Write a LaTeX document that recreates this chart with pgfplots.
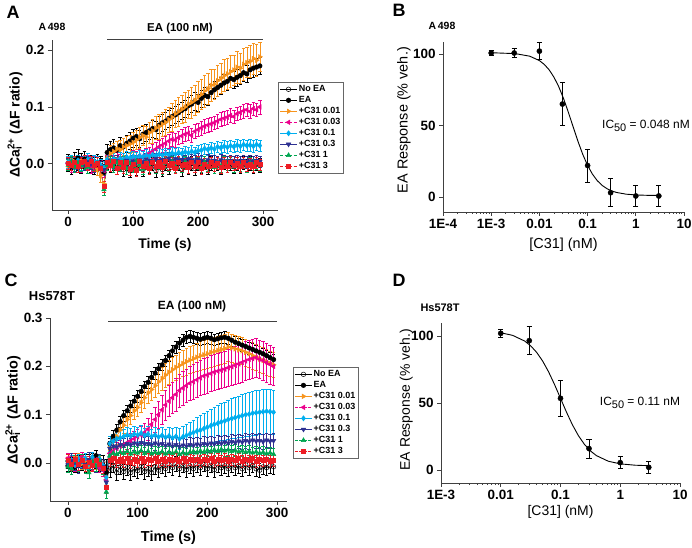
\documentclass[border=0pt]{standalone}
\usepackage{pgfplots}
\pgfplotsset{compat=1.18}
\usepackage{pgfplotstable}
\usepackage{fontspec}
\setmainfont{Liberation Sans}
\definecolor{cOr}{RGB}{247,148,29}
\definecolor{cMg}{RGB}{236,0,140}
\definecolor{cLb}{RGB}{0,174,239}
\definecolor{cNv}{RGB}{46,49,146}
\definecolor{cGr}{RGB}{0,166,81}
\definecolor{cRd}{RGB}{237,28,36}

\pgfplotstableread{
t ne ea c1 c2 c3 c4 c5 c6 e1
0 0.000 0.002 -0.003 0.001 0.003 0.000 -0.002 0.001 0.008
5 0.003 -0.004 0.002 -0.003 0.005 0.002 0.004 -0.002 0.008
10 -0.002 0.006 0.004 0.002 0.001 -0.003 -0.005 0.003 0.008
15 0.001 0.010 -0.002 0.004 0.006 0.001 0.002 -0.004 0.008
20 -0.004 0.003 0.005 -0.002 -0.001 0.003 -0.003 0.002 0.008
25 0.002 0.008 0.003 0.001 0.004 -0.002 0.001 0.005 0.008
30 0.000 0.004 -0.004 0.003 0.008 0.004 -0.006 -0.001 0.008
35 -0.003 0.001 0.002 -0.004 0.002 0.000 0.003 0.004 0.008
40 0.004 -0.003 0.000 0.002 0.005 -0.004 -0.002 -0.003 0.008
45 -0.001 0.002 -0.010 0.000 0.003 0.002 0.001 0.001 0.010
50 0.002 -0.005 -0.020 -0.005 -0.002 -0.006 -0.010 -0.008 0.012
55 -0.005 -0.015 -0.035 -0.012 -0.006 -0.010 -0.045 -0.040 0.012
60 0.003 0.020 0.010 0.004 0.008 0.003 -0.002 0.002 0.012
65 -0.002 0.025 0.018 0.006 0.005 0.006 0.004 -0.003 0.014
70 0.001 0.028 0.022 0.003 0.009 0.002 -0.005 0.004 0.015
75 -0.006 0.024 0.026 0.008 0.006 0.005 0.002 -0.008 0.014
80 0.002 0.032 0.025 0.005 0.010 0.001 -0.003 0.003 0.016
85 -0.010 0.030 0.030 0.007 0.008 0.004 0.003 -0.006 0.015
90 0.000 0.036 0.032 0.010 0.012 0.006 -0.008 0.002 0.017
95 -0.012 0.040 0.035 0.008 0.010 0.002 0.001 -0.010 0.016
100 0.003 0.045 0.038 0.012 0.013 0.005 -0.004 0.000 0.018
105 -0.008 0.048 0.042 0.010 0.011 0.003 0.005 -0.012 0.017
110 0.001 0.044 0.046 0.014 0.014 0.007 -0.002 0.004 0.019
115 -0.010 0.052 0.050 0.012 0.012 0.004 -0.009 -0.005 0.018
120 0.002 0.055 0.047 0.016 0.015 0.008 0.002 0.001 0.020
125 -0.004 0.058 0.055 0.018 0.013 0.006 -0.004 -0.008 0.019
130 0.000 0.062 0.058 0.022 0.016 0.005 0.003 0.003 0.021
135 -0.012 0.060 0.063 0.026 0.014 0.009 -0.006 -0.004 0.020
140 0.003 0.068 0.066 0.030 0.017 0.006 0.001 0.002 0.022
145 -0.010 0.072 0.070 0.033 0.015 0.008 -0.008 -0.006 0.021
150 0.001 0.075 0.073 0.036 0.018 0.007 0.002 0.004 0.023
155 -0.007 0.080 0.078 0.040 0.016 0.010 -0.003 -0.002 0.022
160 0.002 0.083 0.082 0.043 0.019 0.006 0.004 0.001 0.024
165 -0.005 0.086 0.088 0.042 0.017 0.009 -0.005 -0.007 0.023
170 0.000 0.090 0.092 0.046 0.020 0.007 0.001 0.003 0.025
175 -0.009 0.094 0.096 0.049 0.018 0.008 -0.004 -0.003 0.024
180 0.002 0.097 0.100 0.052 0.021 0.006 0.003 0.000 0.026
185 -0.006 0.102 0.105 0.054 0.019 0.009 -0.007 -0.006 0.025
190 0.001 0.105 0.108 0.050 0.022 0.007 0.002 0.002 0.027
195 -0.008 0.110 0.112 0.057 0.020 0.005 -0.004 -0.004 0.026
200 0.000 0.108 0.118 0.060 0.023 0.008 0.001 0.003 0.027
205 -0.005 0.115 0.122 0.063 0.024 0.006 -0.005 -0.008 0.026
210 0.002 0.120 0.128 0.066 0.027 0.004 0.003 0.000 0.028
215 -0.007 0.118 0.132 0.068 0.025 0.007 -0.003 -0.005 0.027
220 0.001 0.125 0.138 0.070 0.028 0.005 0.002 0.002 0.028
225 -0.004 0.130 0.140 0.072 0.026 0.006 -0.006 -0.003 0.027
230 0.000 0.134 0.146 0.075 0.030 0.004 0.001 0.001 0.028
235 -0.006 0.138 0.150 0.078 0.028 0.007 -0.004 -0.006 0.026
240 0.002 0.142 0.155 0.080 0.031 0.005 0.003 0.002 0.028
245 -0.003 0.145 0.158 0.082 0.029 0.004 -0.002 -0.004 0.027
250 0.001 0.150 0.162 0.085 0.032 0.006 0.002 0.003 0.028
255 -0.005 0.148 0.165 0.083 0.030 0.003 -0.005 -0.002 0.026
260 0.000 0.152 0.170 0.088 0.033 0.005 0.001 0.001 0.028
265 -0.004 0.155 0.168 0.090 0.031 0.004 -0.003 -0.005 0.027
270 0.002 0.160 0.175 0.093 0.034 0.006 0.002 0.002 0.028
275 -0.003 0.158 0.178 0.095 0.032 0.003 -0.004 -0.003 0.026
280 0.001 0.165 0.180 0.092 0.033 0.005 0.001 0.000 0.028
285 -0.004 0.168 0.185 0.097 0.031 0.004 -0.002 -0.004 0.027
290 0.000 0.170 0.182 0.095 0.034 0.006 0.001 0.002 0.028
295 -0.002 0.172 0.188 0.100 0.032 0.004 -0.003 -0.001 0.026
}\tabA

\pgfplotstableread{
t ne ea c1 c2 c3 c4 c5 c6 e1 e2 e3
0 0.004 -0.006 0.008 0.010 0.002 -0.004 -0.008 0.006 0.010 0.010 0.010
5 -0.003 0.002 -0.004 0.003 0.006 0.005 -0.012 -0.002 0.010 0.010 0.010
10 0.002 -0.008 0.005 -0.006 -0.004 0.001 0.004 0.008 0.010 0.010 0.010
15 -0.005 0.004 0.010 0.004 0.008 -0.006 -0.005 -0.003 0.010 0.010 0.010
20 0.001 -0.003 -0.002 0.012 0.003 0.004 0.006 0.005 0.010 0.010 0.012
25 -0.004 0.006 0.004 -0.008 0.010 -0.003 -0.010 -0.006 0.010 0.010 0.010
30 0.003 -0.002 -0.006 0.005 -0.002 0.007 -0.020 0.002 0.010 0.010 0.010
35 -0.002 0.008 0.006 -0.004 0.012 0.002 0.003 -0.004 0.010 0.010 0.010
40 0.004 0.015 -0.003 0.007 0.004 -0.005 -0.006 0.006 0.010 0.010 0.010
45 -0.003 0.003 0.005 -0.010 0.009 0.003 0.004 -0.002 0.010 0.010 0.010
50 0.002 -0.005 -0.012 -0.015 -0.004 -0.008 -0.012 -0.010 0.012 0.012 0.012
55 -0.008 -0.020 -0.030 -0.035 -0.030 -0.040 -0.060 -0.050 0.012 0.012 0.012
60 -0.015 0.040 0.030 0.020 0.040 0.030 0.015 0.005 0.015 0.012 0.015
65 -0.005 0.055 0.045 0.025 0.045 0.035 0.020 0.010 0.015 0.012 0.015
70 -0.020 0.068 0.055 0.030 0.050 0.033 0.018 0.004 0.016 0.013 0.015
75 -0.008 0.085 0.068 0.035 0.052 0.038 0.022 0.008 0.016 0.013 0.016
80 -0.018 0.098 0.078 0.038 0.055 0.036 0.020 0.003 0.017 0.014 0.015
85 -0.010 0.108 0.090 0.042 0.058 0.040 0.024 0.009 0.017 0.014 0.016
90 -0.020 0.118 0.098 0.046 0.056 0.037 0.019 0.002 0.018 0.015 0.015
95 -0.012 0.128 0.108 0.050 0.060 0.041 0.023 0.007 0.018 0.015 0.016
100 -0.016 0.138 0.115 0.054 0.058 0.038 0.021 0.004 0.019 0.016 0.015
105 -0.008 0.148 0.125 0.058 0.062 0.042 0.025 0.010 0.020 0.018 0.016
110 -0.018 0.158 0.135 0.063 0.057 0.039 0.020 0.003 0.021 0.020 0.015
115 -0.012 0.167 0.145 0.070 0.060 0.040 0.024 0.008 0.022 0.022 0.016
120 -0.020 0.177 0.152 0.080 0.055 0.037 0.019 0.005 0.022 0.024 0.015
125 -0.008 0.186 0.160 0.090 0.058 0.041 0.022 0.009 0.023 0.026 0.016
130 -0.015 0.195 0.168 0.100 0.054 0.038 0.020 0.004 0.024 0.028 0.015
135 -0.006 0.203 0.175 0.110 0.057 0.040 0.023 0.008 0.024 0.030 0.016
140 -0.012 0.212 0.182 0.120 0.053 0.036 0.019 0.003 0.025 0.031 0.017
145 -0.004 0.222 0.188 0.128 0.056 0.039 0.022 0.007 0.025 0.032 0.018
150 -0.010 0.232 0.193 0.135 0.052 0.035 0.020 0.005 0.026 0.033 0.019
155 -0.002 0.240 0.198 0.142 0.055 0.038 0.023 0.008 0.026 0.034 0.020
160 -0.012 0.248 0.202 0.150 0.050 0.034 0.018 0.004 0.027 0.034 0.021
165 -0.005 0.254 0.206 0.155 0.054 0.037 0.021 0.009 0.027 0.035 0.022
170 -0.014 0.260 0.210 0.160 0.057 0.035 0.019 0.003 0.028 0.035 0.023
175 -0.006 0.262 0.213 0.165 0.060 0.038 0.022 0.007 0.028 0.035 0.024
180 -0.012 0.260 0.216 0.168 0.063 0.036 0.024 0.005 0.028 0.036 0.026
185 -0.004 0.258 0.219 0.172 0.066 0.039 0.021 0.008 0.029 0.036 0.028
190 -0.010 0.256 0.222 0.176 0.068 0.037 0.025 0.004 0.029 0.036 0.030
195 -0.003 0.258 0.224 0.180 0.071 0.040 0.022 0.007 0.030 0.037 0.032
200 -0.012 0.260 0.226 0.182 0.074 0.038 0.026 0.005 0.030 0.037 0.034
205 -0.005 0.258 0.229 0.185 0.077 0.041 0.023 0.009 0.030 0.037 0.035
210 -0.014 0.255 0.231 0.188 0.080 0.039 0.027 0.004 0.030 0.038 0.036
215 -0.004 0.257 0.233 0.190 0.082 0.042 0.024 0.008 0.030 0.038 0.037
220 -0.010 0.259 0.235 0.192 0.085 0.040 0.028 0.005 0.030 0.038 0.038
225 -0.006 0.260 0.237 0.194 0.087 0.043 0.025 0.008 0.030 0.038 0.039
230 -0.012 0.258 0.240 0.197 0.090 0.041 0.027 0.004 0.030 0.039 0.040
235 -0.004 0.254 0.238 0.199 0.092 0.044 0.024 0.007 0.029 0.039 0.041
240 -0.010 0.250 0.236 0.202 0.094 0.042 0.026 0.005 0.029 0.039 0.042
245 -0.006 0.247 0.234 0.205 0.096 0.045 0.023 0.009 0.029 0.040 0.043
250 -0.012 0.244 0.232 0.208 0.098 0.043 0.025 0.004 0.028 0.040 0.044
255 -0.004 0.241 0.229 0.211 0.100 0.046 0.022 0.008 0.028 0.040 0.045
260 -0.010 0.238 0.226 0.214 0.101 0.044 0.024 0.005 0.028 0.040 0.045
265 -0.005 0.235 0.222 0.216 0.103 0.047 0.021 0.009 0.028 0.040 0.046
270 -0.012 0.232 0.219 0.218 0.104 0.045 0.023 0.004 0.027 0.040 0.046
275 -0.015 0.229 0.215 0.215 0.105 0.046 0.020 0.008 0.027 0.040 0.046
280 -0.008 0.226 0.212 0.212 0.106 0.044 0.022 0.005 0.027 0.040 0.046
285 -0.010 0.222 0.209 0.208 0.107 0.047 0.019 0.007 0.027 0.040 0.046
290 -0.006 0.218 0.206 0.204 0.106 0.045 0.021 0.004 0.026 0.040 0.046
295 -0.008 0.214 0.203 0.200 0.105 0.046 0.018 0.006 0.026 0.040 0.046
}\tabC

\pgfplotstableread{
x y e
0.001 100.7 2
0.003 100.7 3
0.01 102 6
0.03 65 15
0.1 22 11.5
0.3 3 9.7
1 0.7 7.6
3 0.7 7.6
}\tabB

\pgfplotstableread{
x y e
0.01 102 3
0.03 96.5 10.5
0.1 53.5 13.7
0.3 16 7
1 5.5 4.4
3 2 4.4
}\tabD

\pgfplotsset{
  panel/.style={scale only axis, axis x line*=bottom, axis y line*=left,
    tick align=outside, major tick length=4bp, minor tick length=2bp,
    axis line style={black!75, line width=0.8bp},
    every tick/.append style={black!75, line width=0.8bp},
    tick label style={font=\fontsize{13.5}{14}\selectfont\bfseries},
    /pgf/number format/assume math mode=true, clip=false},
  tsaxis/.style={scaled y ticks=false,
    yticklabel style={/pgf/number format/fixed, /pgf/number format/zerofill, /pgf/number format/precision=1},
    xtick={0,100,200,300}, ytick={0,0.1,0.2,0.3},
    legend cell align=left,
    legend style={draw=black!60, line width=0.6bp, font=\fontsize{9}{9}\selectfont\bfseries,
      nodes={text height=6.6bp, text depth=1.4bp, inner sep=1.5bp}, row sep=0bp, inner sep=1.5bp}},
  ser/.style={line width=0.5bp, mark size=2.6bp,
    error bars/error bar style={solid, line width=0.55bp},
    error bars/error mark options={rotate=90, mark size=1.8bp, solid}},
  drc/.style={ytick={0,50,100},
    xlabel style={font=\fontsize{14.5}{15}\selectfont},
    ylabel style={font=\fontsize{14.5}{15}\selectfont}}
}

\begin{document}
\begin{tikzpicture}
\useasboundingbox (0,0) rectangle (692bp,548bp);

% ---------------- Panel A ----------------
\begin{axis}[panel, tsaxis, at={(52bp,338bp)}, anchor=south west, width=226bp, height=170bp,
  xmin=-25, xmax=323, ymin=-0.081, ymax=0.2175,
  xlabel={\bfseries Time (s)}, ylabel={\bfseries ΔCa\rlap{\textsubscript{i}}\textsuperscript{2+} (ΔF ratio)},
  xlabel style={font=\fontsize{14}{15}\selectfont, at={(axis description cs:0.5,-0.206)}, anchor=center},
  ylabel style={font=\fontsize{14}{15}\selectfont, at={(axis description cs:-0.164,0.5)}, anchor=center},
  legend style={at={(axis description cs:1.0,0.753)}, anchor=north west}]
\addplot[ser, black, mark=o, mark size=2.3bp, mark options={fill=white, solid}, error bars/.cd, y dir=both, y fixed=0.012] table[x=t,y=ne]{\tabA};
\addplot[ser, black, mark=*, mark size=2.3bp, mark options={solid}, error bars/.cd, y dir=both, y fixed=0.015] table[x=t,y=ea]{\tabA};
\addplot[ser, cOr, mark=triangle*, mark options={rotate=-90, solid}, error bars/.cd, y dir=both, y explicit] table[x=t,y=c1,y error=e1]{\tabA};
\addplot[ser, cMg, dash pattern=on 3bp off 1.5bp, mark=triangle*, mark options={rotate=90, solid}, error bars/.cd, y dir=both, y fixed=0.012] table[x=t,y=c2]{\tabA};
\addplot[ser, cLb, mark=diamond*, mark options={solid}, error bars/.cd, y dir=both, y fixed=0.01] table[x=t,y=c3]{\tabA};
\addplot[ser, cNv, mark=triangle*, mark options={rotate=180, solid}, error bars/.cd, y dir=both, y fixed=0.01] table[x=t,y=c4]{\tabA};
\addplot[ser, cGr, dash pattern=on 3bp off 1.5bp, mark=triangle*, mark options={solid}, error bars/.cd, y dir=both, y fixed=0.01] table[x=t,y=c5]{\tabA};
\addplot[ser, cRd, dash pattern=on 3bp off 1.5bp, mark=square*, mark size=2bp, mark options={solid}, error bars/.cd, y dir=both, y fixed=0.01] table[x=t,y=c6]{\tabA};
\legend{No EA, EA, +C31 0.01, +C31 0.03, +C31 0.1, +C31 0.3, +C31 1, +C31 3}
\draw[black!75, line width=1.2bp] (axis cs:60,0.219) -- (axis cs:300,0.219);
\end{axis}

% ---------------- Panel B ----------------
\begin{semilogxaxis}[panel, drc, at={(443bp,336bp)}, anchor=south west, width=241bp, height=170bp,
  xmin=1e-4, xmax=10, ymin=-10.5, ymax=108.4,
  xtick={1e-4,1e-3,0.01,0.1,1,10}, xticklabels={1E-4,1E-3,0.01,0.1,1,10},
  xlabel={[C31] (nM)}, ylabel={EA Response (\% veh.)},
  xlabel style={at={(axis description cs:0.5,-0.194)}, anchor=center},
  ylabel style={at={(axis description cs:-0.162,0.54)}, anchor=center}]
\addplot[black, line width=0.9bp, no marks] coordinates {
(0.001,100.9) (0.00316,100.26) (0.00631,98.47) (0.01,95.39) (0.01259,92.75) (0.01585,89.02)
(0.01995,83.92) (0.02512,77.23) (0.03162,68.94) (0.03981,59.34) (0.05012,49.06) (0.0631,38.94)
(0.07943,29.77) (0.1,22.06) (0.1259,15.99) (0.1585,11.43) (0.1995,8.15) (0.2512,5.84)
(0.3162,4.25) (0.3981,3.17) (0.631,1.96) (1,1.42) (1.778,1.15) (3,1.05)};
\addplot[black, only marks, mark=*, mark size=2.6bp, error bars/.cd, y dir=both, y explicit,
  error bar style={line width=0.8bp}, error mark options={rotate=90, mark size=2.6bp, line width=0.8bp}]
  table[x=x, y=y, y error=e]{\tabB};
\end{semilogxaxis}

% ---------------- Panel C ----------------
\begin{axis}[panel, tsaxis, at={(50bp,47bp)}, anchor=south west, width=237bp, height=183bp,
  xmin=-25.8, xmax=314.3, ymin=-0.0787, ymax=0.3,
  xlabel={\bfseries Time (s)}, ylabel={\bfseries ΔCa\rlap{\textsubscript{i}}\textsuperscript{2+} (ΔF ratio)},
  xlabel style={font=\fontsize{14.5}{15}\selectfont, at={(axis description cs:0.5,-0.202)}, anchor=center},
  ylabel style={font=\fontsize{14.5}{15}\selectfont, at={(axis description cs:-0.156,0.497)}, anchor=center},
  legend style={at={(axis description cs:1.025,0.732)}, anchor=north west}]
\addplot[ser, black, mark=o, mark size=2.3bp, mark options={fill=white, solid}, error bars/.cd, y dir=both, y fixed=0.015] table[x=t,y=ne]{\tabC};
\addplot[ser, black, mark=*, mark size=2.3bp, mark options={solid}, error bars/.cd, y dir=both, y fixed=0.012] table[x=t,y=ea]{\tabC};
\addplot[ser, cOr, mark=triangle*, mark options={rotate=-90, solid}, error bars/.cd, y dir=both, y explicit] table[x=t,y=c1,y error=e1]{\tabC};
\addplot[ser, cMg, dash pattern=on 3bp off 1.5bp, mark=triangle*, mark options={rotate=90, solid}, error bars/.cd, y dir=both, y explicit] table[x=t,y=c2,y error=e2]{\tabC};
\addplot[ser, cLb, mark=diamond*, mark options={solid}, error bars/.cd, y dir=both, y explicit] table[x=t,y=c3,y error=e3]{\tabC};
\addplot[ser, cNv, mark=triangle*, mark options={rotate=180, solid}, error bars/.cd, y dir=both, y fixed=0.015] table[x=t,y=c4]{\tabC};
\addplot[ser, cGr, dash pattern=on 3bp off 1.5bp, mark=triangle*, mark options={solid}, error bars/.cd, y dir=both, y fixed=0.012] table[x=t,y=c5]{\tabC};
\addplot[ser, cRd, dash pattern=on 3bp off 1.5bp, mark=square*, mark size=2bp, mark options={solid}, error bars/.cd, y dir=both, y fixed=0.012] table[x=t,y=c6]{\tabC};
\legend{No EA, EA, +C31 0.01, +C31 0.03, +C31 0.1, +C31 0.3, +C31 1, +C31 3}
\draw[black!75, line width=1.2bp] (axis cs:57.5,0.292) -- (axis cs:300,0.292);
\end{axis}

% ---------------- Panel D ----------------
\begin{semilogxaxis}[panel, drc, at={(441bp,65bp)}, anchor=south west, width=239bp, height=160bp,
  xmin=1e-3, xmax=10, ymin=-9.7, ymax=109.7,
  xtick={1e-3,0.01,0.1,1,10}, xticklabels={1E-3,0.01,0.1,1,10},
  xlabel={[C31] (nM)}, ylabel={EA Response (\% veh.)},
  xlabel style={font=\fontsize{14}{15}\selectfont, at={(axis description cs:0.5,-0.18)}, anchor=center},
  ylabel style={font=\fontsize{14}{15}\selectfont, at={(axis description cs:-0.145,0.52)}, anchor=center}]
\addplot[black, line width=0.9bp, no marks] coordinates {
(0.01,102.42) (0.01585,100.46) (0.02512,96.24) (0.03162,92.71) (0.03981,87.84) (0.05012,81.39)
(0.0631,73.31) (0.07943,63.82) (0.1,53.5) (0.1259,43.18) (0.1585,33.69) (0.1995,25.61)
(0.2512,19.17) (0.3162,14.29) (0.3981,10.76) (0.631,6.54) (1,4.58) (1.778,3.57) (3,3.22)};
\addplot[black, only marks, mark=*, mark size=2.6bp, error bars/.cd, y dir=both, y explicit,
  error bar style={line width=0.8bp}, error mark options={rotate=90, mark size=2.6bp, line width=0.8bp}]
  table[x=x, y=y, y error=e]{\tabD};
\end{semilogxaxis}

% ---------------- Texts ----------------
\node[font=\fontsize{18}{18}\selectfont\bfseries] at (13bp,536bp) {A};
\node[font=\fontsize{18}{18}\selectfont\bfseries] at (399bp,538bp) {B};
\node[font=\fontsize{18}{18}\selectfont\bfseries] at (11bp,268bp) {C};
\node[font=\fontsize{18}{18}\selectfont\bfseries] at (399bp,268bp) {D};
\node[font=\fontsize{10.5}{11}\selectfont\bfseries] at (52bp,521bp) {A\,498};
\node[font=\fontsize{10.5}{11}\selectfont\bfseries] at (442bp,522bp) {A\,498};
\node[font=\fontsize{13}{13}\selectfont\bfseries] at (52bp,252bp) {Hs578T};
\node[font=\fontsize{11}{11}\selectfont\bfseries] at (440bp,240bp) {Hs578T};
\node[font=\fontsize{11.5}{12}\selectfont\bfseries] at (180bp,519bp) {EA (100 nM)};
\node[font=\fontsize{12}{12}\selectfont\bfseries] at (192bp,242bp) {EA (100 nM)};
\node[font=\fontsize{12}{12}\selectfont] at (646bp,422bp) {IC\raisebox{-2.5bp}{\fontsize{11}{11}\selectfont 50} = 0.048 nM};
\node[font=\fontsize{12}{12}\selectfont] at (640bp,145bp) {IC\raisebox{-2.5bp}{\fontsize{11}{11}\selectfont 50} = 0.11 nM};
\end{tikzpicture}
\end{document}
